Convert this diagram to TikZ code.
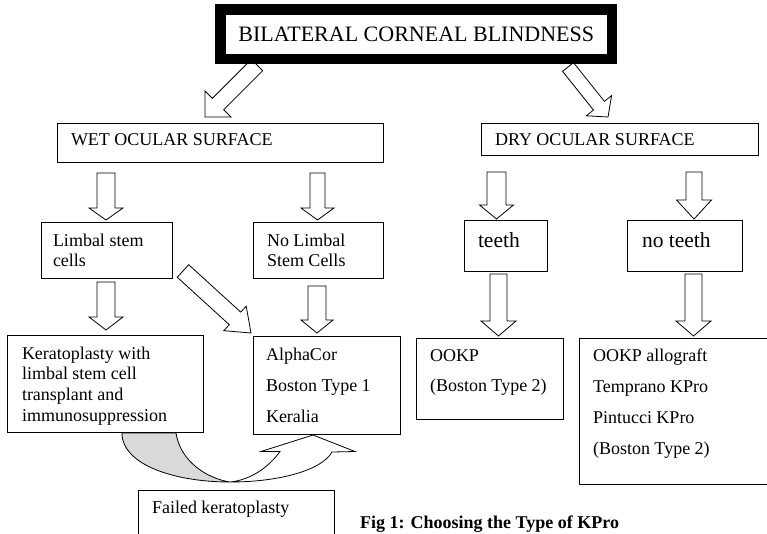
\documentclass[tikz,border=0pt]{standalone}
\usepackage{fontspec}
\setmainfont{Liberation Serif}
\usetikzlibrary{calc}
\definecolor{cgray}{RGB}{217,217,217}
% width, height, first-baseline offset, left pad, font size, baselineskip, text
\newcommand\bt[7]{\parbox[c][#2pt][t]{#1pt}{\fontsize{#5}{#6}\selectfont\parindent=0pt\leftskip=#4pt\relax\rightskip=0pt plus 1fil\relax\vspace*{\dimexpr #3pt-16pt\relax}\noindent\rule{0pt}{16pt}#7}}
\tikzset{
  bx/.style={draw, line width=0.8pt, fill=white, inner sep=0pt, outer sep=0pt, anchor=north west},
  blk/.style n args={3}{draw, fill=white, line width=0.8pt, line join=miter,
    to path={let \p1=(\tikztostart), \p2=(\tikztotarget),
      \n1={atan2(\y2-\y1,\x2-\x1)}, \n2={veclen(\x2-\x1,\y2-\y1)-#3} in
      ($(\p1)+(\n1+90:#1pt)$)
      -- ($(\p1)+(\n1:\n2)+(\n1+90:#1pt)$)
      -- ($(\p1)+(\n1:\n2)+(\n1+90:#2pt)$)
      -- (\p2)
      -- ($(\p1)+(\n1:\n2)+(\n1-90:#2pt)$)
      -- ($(\p1)+(\n1:\n2)+(\n1-90:#1pt)$)
      -- ($(\p1)+(\n1-90:#1pt)$) -- cycle}},
  curv/.style={draw, line width=0.8pt, line join=miter}
}
\begin{document}
\begin{tikzpicture}[x=1pt,y=-1pt]
\useasboundingbox (0,0) rectangle (767,533);
\clip (0,0) rectangle (767,533);
\fill[white] (0,0) rectangle (767,533);

% arrow end points
\coordinate (a1s) at (257,65);    \coordinate (a1e) at (205,117);
\coordinate (a2s) at (568,67);    \coordinate (a2e) at (608,117);
\coordinate (a3s) at (106,173);   \coordinate (a3e) at (106,220);
\coordinate (a4s) at (317.5,173); \coordinate (a4e) at (317.5,220);
\coordinate (a5s) at (496.5,172); \coordinate (a5e) at (496.5,219);
\coordinate (a6s) at (694,172);   \coordinate (a6e) at (694,219);
\coordinate (a7s) at (106,282);   \coordinate (a7e) at (106,330);
\coordinate (a8s) at (317,286);   \coordinate (a8e) at (317,333);
\coordinate (a9s) at (498.5,274); \coordinate (a9e) at (498.5,336);
\coordinate (a10s) at (693.5,274);\coordinate (a10e) at (693.5,336);
\coordinate (a11s) at (183,271);  \coordinate (a11e) at (251,333);

\draw[blk={8}{18.4}{18.4}] (a1s) to (a1e);
\draw[blk={7}{16.2}{14.5}] (a2s) to (a2e);
\draw[blk={9}{17}{12}] (a3s) to (a3e);
\draw[blk={7.5}{16.5}{12}] (a4s) to (a4e);
\draw[blk={9.5}{17}{14}] (a5s) to (a5e);
\draw[blk={8}{17.5}{19}] (a6s) to (a6e);
\draw[blk={9}{17}{13}] (a7s) to (a7e);
\draw[blk={9}{16}{13}] (a8s) to (a8e);
\draw[blk={8.5}{17.5}{15}] (a9s) to (a9e);
\draw[blk={8.5}{17.5}{15}] (a10s) to (a10e);
\draw[blk={8.5}{16.6}{21.6}] (a11s) to (a11e);

% title
\node[draw, line width=10.5pt, fill=white, inner sep=0pt, outer sep=0pt,
      minimum width=391.5pt, minimum height=49.5pt, font=\fontsize{22}{26}\selectfont]
  (title) at (416.25,34.25) {BILATERAL CORNEAL BLINDNESS};

% boxes
\node[bx] (wet) at (57,123) {\bt{326}{39}{22}{14}{18}{20.6}{WET OCULAR SURFACE}};
\node[bx] (dry) at (481,123) {\bt{277}{32}{22.5}{14}{18}{20.6}{DRY OCULAR SURFACE}};
\node[bx] (limbal) at (41,222) {\bt{131}{56}{24}{12}{18}{20.6}{Limbal stem\\cells}};
\node[bx] (nolimbal) at (253,222) {\bt{130}{56}{24}{14}{18}{20.6}{No Limbal\\Stem Cells}};
\node[bx] (teeth) at (464,220) {\bt{83}{51}{27}{14}{21.5}{24}{teeth}};
\node[bx] (noteeth) at (627,220) {\bt{115}{51}{27}{15}{21.5}{24}{no teeth}};
\node[bx] (kerat) at (7,335) {\bt{196}{97}{24}{15}{18}{20.8}{Keratoplasty with\\limbal stem cell\\transplant and\\immunosuppression}};
\node[bx] (alpha) at (253,336) {\bt{147}{98}{24}{13}{18}{31}{AlphaCor\\Boston Type 1\\Keralia}};
\node[bx] (ookp) at (416,338) {\bt{147}{81}{23.5}{14}{18}{30}{OOKP\\(Boston Type 2)}};
\node[bx] (kpro) at (579,338) {\bt{188.5}{146}{23.5}{14}{18}{31}{OOKP allograft\\Temprano KPro\\Pintucci KPro\\(Boston Type 2)}};
\node[bx] (failed) at (138,490) {\bt{196}{60}{23}{14}{18}{20.6}{Failed keratoplasty}};

% curved arrow (kerat -> alpha)
\coordinate (cA) at (122,433);
\coordinate (cB) at (230,482);
\coordinate (cC) at (176,433);
\coordinate (cD) at (332,452);
\coordinate (cRW) at (355,451.5);
\coordinate (cT) at (313,435);
\coordinate (cLW) at (261,451.5);
\coordinate (cE) at (280,451.5);
\path[curv, fill=cgray] (cA) .. controls (122,465) and (175,482) .. (cB)
   .. controls (205,478) and (180,460) .. (cC) -- cycle;
\path[curv, fill=white] (cB) .. controls (280,482) and (322,470) .. (cD)
   -- (cRW) -- (cT) -- (cLW) -- (cE)
   .. controls (268,468) and (250,480) .. (cB) -- cycle;

% caption
\node[anchor=base west, inner sep=0pt, font=\fontsize{18}{21}\selectfont\bfseries]
  (caption) at (360,528.5) {Fig 1: Choosing the Type of KPro};
\end{tikzpicture}
\end{document}
